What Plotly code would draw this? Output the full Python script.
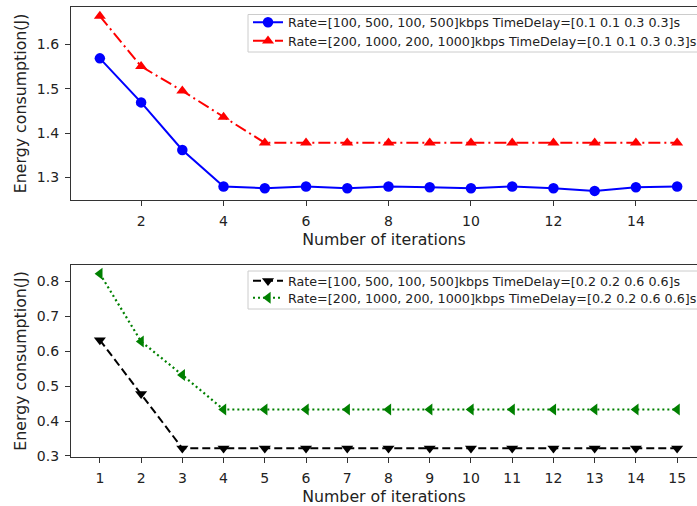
import plotly.graph_objects as go

iterations = list(range(1, 16))
top_rate1 = [1.568, 1.469, 1.362, 1.280, 1.276, 1.280, 1.276, 1.280, 1.278, 1.276, 1.280, 1.276, 1.270, 1.278, 1.280]
top_rate2 = [1.663, 1.550, 1.495, 1.436, 1.378, 1.378, 1.378, 1.378, 1.378, 1.378, 1.378, 1.378, 1.378, 1.378, 1.378]
bot_rate1 = [0.632, 0.478, 0.322, 0.322, 0.322, 0.322, 0.322, 0.322, 0.322, 0.322, 0.322, 0.322, 0.322, 0.322, 0.322]
bot_rate2 = [0.822, 0.628, 0.532, 0.433, 0.433, 0.433, 0.433, 0.433, 0.433, 0.433, 0.433, 0.433, 0.433, 0.433, 0.433]

names_top = ["Rate=[100, 500, 100, 500]kbps TimeDelay=[0.1 0.1 0.3 0.3]s",
             "Rate=[200, 1000, 200, 1000]kbps TimeDelay=[0.1 0.1 0.3 0.3]s"]
names_bot = ["Rate=[100, 500, 100, 500]kbps TimeDelay=[0.2 0.2 0.6 0.6]s",
             "Rate=[200, 1000, 200, 1000]kbps TimeDelay=[0.2 0.2 0.6 0.6]s"]

W, H = 697, 506
MB = 12
PH = H - MB
font = "DejaVu Sans"


def py(px):
    return 1 - px / PH


def pxx(px):
    return px / W


fig = go.Figure()
fig.add_trace(go.Scatter(x=iterations, y=top_rate1, name=names_top[0], mode="lines+markers",
                         line=dict(color="#0000ff", width=2),
                         marker=dict(symbol="circle", size=10.5, color="#0000ff"),
                         xaxis="x", yaxis="y", legend="legend", showlegend=True))
fig.add_trace(go.Scatter(x=iterations, y=top_rate2, name=names_top[1], mode="lines+markers",
                         line=dict(color="#ff0000", width=2, dash="12px,4px,2px,4px"),
                         marker=dict(symbol="triangle-up", size=10.5, color="#ff0000"),
                         xaxis="x", yaxis="y", legend="legend2", showlegend=True))
fig.add_trace(go.Scatter(x=iterations, y=bot_rate1, name=names_bot[0], mode="lines+markers",
                         line=dict(color="#000000", width=2, dash="8px,4px"),
                         marker=dict(symbol="triangle-down", size=10.5, color="#000000"),
                         xaxis="x2", yaxis="y2", legend="legend3", showlegend=True))
fig.add_trace(go.Scatter(x=iterations, y=bot_rate2, name=names_bot[1], mode="lines+markers",
                         line=dict(color="#008000", width=2.2, dash="2px,3px"),
                         marker=dict(symbol="triangle-left", size=10.5, color="#008000"),
                         xaxis="x2", yaxis="y2", legend="legend4", showlegend=True))

x_left = pxx(71)
xmax = 0.3 + 15.4 * (W - 71) / 635

axis_common = dict(showgrid=False, zeroline=False, showline=True, linecolor="#333333", linewidth=1.3,
                   ticks="outside", ticklen=5, tickcolor="#333333",
                   tickfont=dict(family=font, size=14, color="#222222"))

title_font = dict(family=font, size=15.8, color="#222222")

legend_common = dict(bgcolor="rgba(0,0,0,0)", borderwidth=0,
                     font=dict(family=font, size=12.7, color="#222222"),
                     xanchor="left", yanchor="middle", itemwidth=30)

fig.update_layout(
    width=W, height=H, margin=dict(l=0, r=0, t=0, b=MB, autoexpand=False),
    showlegend=True,
    paper_bgcolor="white", plot_bgcolor="white",
    font=dict(family=font, color="#222222"),
    xaxis=dict(domain=[x_left, 1], range=[0.3, xmax], tick0=0, dtick=2, mirror=True, anchor="y",
               ticklabelstandoff=3,
               title=dict(text="Number of iterations", font=title_font, standoff=5),
               **axis_common),
    yaxis=dict(domain=[py(200), py(7)], range=[1.2495, 1.6835], dtick=0.1, tickformat=".1f",
               anchor="x", ticklabelstandoff=3,
               title=dict(text="Energy consumption(J)", font=title_font, standoff=6),
               **axis_common),
    xaxis2=dict(domain=[x_left, 1], range=[0.3, xmax], tick0=1, dtick=1, mirror=True, anchor="y2",
                ticklabelstandoff=3,
                title=dict(text="Number of iterations", font=title_font, standoff=5),
                **axis_common),
    yaxis2=dict(domain=[py(457), py(265)], range=[0.297, 0.847], dtick=0.1, tickformat=".1f",
                anchor="x2", ticklabelstandoff=3,
                title=dict(text="Energy consumption(J)", font=title_font, standoff=6),
                **axis_common),
    legend=dict(x=pxx(248), y=py(22.5), **legend_common),
    legend2=dict(x=pxx(248), y=py(41), **legend_common),
    legend3=dict(x=pxx(248), y=py(281), **legend_common),
    legend4=dict(x=pxx(248), y=py(298), **legend_common),
    shapes=[
        dict(type="rect", xref="paper", yref="paper", x0=pxx(248), x1=1.03, y0=py(52), y1=py(14.5),
             line=dict(color="#cccccc", width=1), fillcolor="rgba(255,255,255,0.9)", layer="above"),
        dict(type="rect", xref="paper", yref="paper", x0=pxx(248), x1=1.03, y0=py(309), y1=py(271),
             line=dict(color="#cccccc", width=1), fillcolor="rgba(255,255,255,0.9)", layer="above"),
    ],
)

fig.write_html("out.html")
